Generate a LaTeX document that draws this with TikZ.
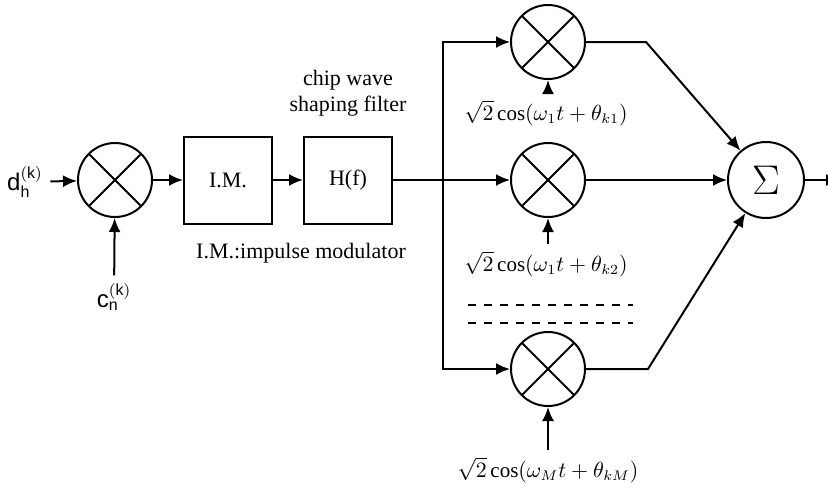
\documentclass[tikz,border=0pt]{standalone}
\usepackage{fontspec}
\setmainfont{Liberation Serif}
\setsansfont{Liberation Sans}
\usetikzlibrary{arrows.meta}

\begin{document}
\begin{tikzpicture}[
        x=0.5pt, y=-0.5pt,
        line width=1pt,
        mixer/.style = {circle, draw=black, minimum size=37pt, inner sep=0pt,
            path picture={\draw[line width=1pt] (path picture bounding box.north west) -- (path picture bounding box.south east)
                (path picture bounding box.north east) -- (path picture bounding box.south west);}},
        adder/.style = {circle, draw=black, minimum size=38pt, inner sep=0pt, font=\fontsize{20}{22}\selectfont},
        box/.style = {rectangle, draw=black, minimum width=44pt, minimum height=43.5pt, font=\fontsize{11}{13}\selectfont},
        lbl/.style = {font=\fontsize{11}{13}\selectfont, align=center},
        carrier/.style = {font=\fontsize{10.5}{12}\selectfont},
        arrow/.style = {-{Latex[length=7pt,width=6pt]}},
        dots/.style = {dash pattern=on 4pt off 4pt, line width=0.8pt}
    ]
    \useasboundingbox (0,0) rectangle (828,489);
    \clip (0,0) rectangle (828,489);

    % ================= SPREADING AND FILTER =================
    \node[mixer] (mix0) at (115,180) {};
    \node[lbl, font=\fontsize{12}{14}\selectfont] (din) at (25,182) {$\mathsf{d}_{\mathsf{h}}^{\mathsf{(k)}}$};
    \node[lbl, font=\fontsize{12}{14}\selectfont] (cin) at (114,297) {$\mathsf{c}_{\mathsf{n}}^{\mathsf{(k)}}$};
    \node[box] (im) at (228,180) {I.M.};
    \node[box] (hf) at (348,180) {H(f)};
    \node[lbl] (hflbl) at (348,93) {chip wave\\shaping filter};
    \node[lbl] (imlbl) at (301,253) {I.M.:impulse modulator};
    %
    \draw[arrow] (din) -- (mix0);
    \draw[arrow] (cin) -- (mix0);
    \draw[arrow] (mix0) -- (im);
    \draw[arrow] (im) -- (hf);

    % ================= CARRIER BRANCHES =================
    \coordinate (split) at (443,180);
    \coordinate (top) at (443,42);
    \coordinate (bot) at (443,369);
    %
    \node[mixer] (mix1) at (548,42) {};
    \node[mixer] (mix2) at (548,180) {};
    \node[mixer] (mix3) at (548,369) {};
    \node[carrier] (lo1) at (546,113) {$\sqrt{2}\cos(\omega_1 t+\theta_{k1})$};
    \node[carrier] (lo2) at (546,264) {$\sqrt{2}\cos(\omega_1 t+\theta_{k2})$};
    \node[carrier] (lo3) at (548,470) {$\sqrt{2}\cos(\omega_M t+\theta_{kM})$};
    %
    \draw (hf) -- (split);
    \draw[arrow] (split) -- (mix2);
    \draw[arrow] (split) -- (top) -- (mix1);
    \draw[arrow] (split) -- (bot) -- (mix3);
    \draw[arrow] (lo1.north -| mix1) -- (mix1);
    \draw[arrow] (lo2.north -| mix2) -- (mix2);
    \draw[arrow] (lo3) -- (mix3);

    % omitted branches
    \draw[dots] (468,305) -- (633,305);
    \draw[dots] (468,323) -- (633,323);

    % ================= SUMMATION =================
    \node[adder] (sum) at (766,180) {$\Sigma$};
    \coordinate (k1) at (646,42);
    \coordinate (k3) at (648,369);
    \coordinate (out) at (840,180);
    %
    \draw[arrow] (mix1) -- (k1) -- (sum);
    \draw[arrow] (mix2) -- (sum);
    \draw[arrow] (mix3) -- (k3) -- (sum);
    \draw[arrow] (sum) -- (out);

\end{tikzpicture}
\end{document}
